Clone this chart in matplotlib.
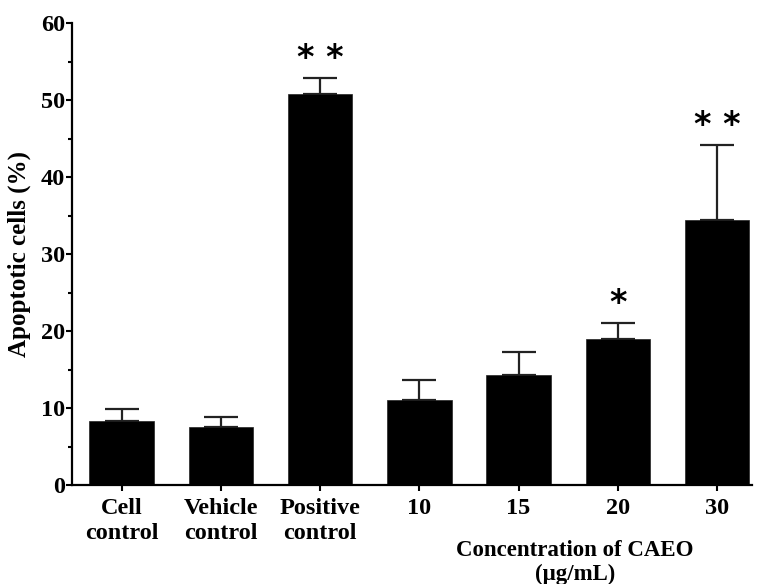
import numpy as np
import matplotlib.pyplot as plt
from matplotlib.ticker import MultipleLocator

# data
groups = ['Cell\ncontrol', 'Vehicle\ncontrol', 'Positive\ncontrol', '10', '15', '20', '30']
means = [8.3, 7.5, 50.8, 11.0, 14.3, 19.0, 34.4]
errs = [1.6, 1.3, 2.1, 2.6, 3.0, 2.0, 9.8]
stars = ['', '', '**', '', '', '*', '**']

plt.rcParams['font.family'] = ['Liberation Serif', 'DejaVu Serif']
plt.rcParams['font.weight'] = 'bold'

fig = plt.figure(figsize=(7.57, 5.84), dpi=100)
ax = fig.add_axes([0.0951, 0.1695, 0.898, 0.791])

x = np.arange(len(groups))
ax.bar(x, means, width=0.65, color='black', edgecolor='#222222', linewidth=0.5, zorder=2)
ax.errorbar(x, means, yerr=[np.zeros(len(errs)), errs], fmt='none',
            ecolor='#222222', elinewidth=1.6, capsize=12, capthick=1.6, zorder=1)

for xi, m, e, s in zip(x, means, errs, stars):
  if s:
    ax.text(xi, m + e + 0.4, ' '.join(s), ha='center', va='bottom',
            fontsize=24, fontweight='bold', family='DejaVu Sans')

ax.set_xlim(-0.5, 6.35)
ax.set_ylim(0, 60)
ax.yaxis.set_major_locator(MultipleLocator(10))
ax.yaxis.set_minor_locator(MultipleLocator(5))
ax.set_xticks(x)
ax.set_xticklabels(groups, fontsize=17.5, fontweight='bold', linespacing=1.3)
ax.tick_params(axis='y', labelsize=17.5, width=1.5, length=4, pad=1)
ax.tick_params(axis='y', which='minor', width=1.5, length=3)
ax.tick_params(axis='x', width=1.5, length=4, pad=5)
for lab in ax.get_yticklabels():
  lab.set_fontweight('bold')

for sp in ['top', 'right']:
  ax.spines[sp].set_visible(False)
for sp in ['left', 'bottom']:
  ax.spines[sp].set_linewidth(1.6)

ax.set_ylabel('Apoptotic cells (%)', fontsize=18, fontweight='bold', labelpad=7)
ax.text(4.57, -0.12, 'Concentration of CAEO\n(μg/mL)', transform=ax.get_xaxis_transform(),
        ha='center', va='top', fontsize=16.5, fontweight='bold', linespacing=1.15)

fig.savefig('out.png', dpi=100)
